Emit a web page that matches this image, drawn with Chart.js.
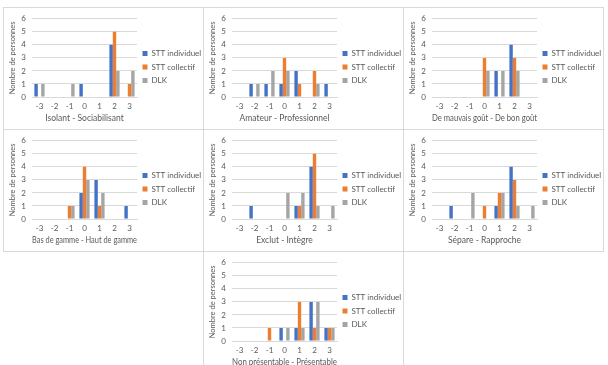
<!DOCTYPE html>
<html>
<head>
<meta charset="utf-8">
<script src="https://cdn.jsdelivr.net/npm/chart.js@4.4.1/dist/chart.umd.min.js"></script>
<style>
  body { margin: 0; background: #fff; width: 608px; height: 365px; overflow: hidden; position: relative; }
  .panel { position: absolute; width: 201px; height: 123px; box-sizing: border-box; border: 1px solid #d9d9d9; background: #fff; }
  .panel canvas { display: block; }
</style>
</head>
<body>
<script>
// categories of the semantic scale
const categories = ['-3', '-2', '-1', '0', '1', '2', '3'];
const seriesNames = ['STT individuel', 'STT collectif', 'DLK'];
const axisTitles = [
  'Isolant - Sociabilisant',
  'Amateur - Professionnel',
  'De mauvais goût - De bon goût',
  'Bas de gamme - Haut de gamme',
  'Exclut - Intègre',
  'Sépare - Rapproche',
  'Non présentable - Présentable'
];
const yTicks = [0, 1, 2, 3, 4, 5, 6];

// one row per panel, one value per category
const sttIndividuel = [
  [1, 0, 0, 1, 0, 4, 0],
  [0, 1, 1, 1, 2, 0, 1],
  [0, 0, 0, 0, 2, 4, 0],
  [0, 0, 0, 2, 3, 0, 1],
  [0, 1, 0, 0, 1, 4, 0],
  [0, 1, 0, 0, 1, 4, 0],
  [0, 0, 0, 1, 1, 3, 1]
];
const sttCollectif = [
  [0, 0, 0, 0, 0, 5, 1],
  [0, 0, 0, 3, 1, 2, 0],
  [0, 0, 0, 3, 0, 3, 0],
  [0, 0, 1, 4, 1, 0, 0],
  [0, 0, 0, 0, 1, 5, 0],
  [0, 0, 0, 1, 2, 3, 0],
  [0, 0, 1, 0, 3, 1, 1]
];
const dlk = [
  [1, 0, 1, 0, 0, 2, 2],
  [0, 1, 2, 2, 0, 1, 0],
  [0, 0, 0, 2, 2, 2, 0],
  [0, 0, 1, 3, 2, 0, 0],
  [0, 0, 0, 2, 2, 1, 1],
  [0, 0, 2, 0, 2, 1, 1],
  [0, 0, 0, 1, 1, 3, 1]
];

const colors = ['#4472c4', '#ed7d31', '#a5a5a5'];
const panelPos = [[3, 7], [203, 7], [403, 7], [3, 129], [203, 129], [403, 129], [203, 251]];
const textColor = '#595959';
const fontFamily = 'Lato, "Liberation Sans", sans-serif';

function createPanel(i) {
  const div = document.createElement('div');
  div.className = 'panel';
  div.style.left = panelPos[i][0] + 'px';
  div.style.top = panelPos[i][1] + 'px';
  const canvas = document.createElement('canvas');
  canvas.width = 199;
  canvas.height = 121;
  div.appendChild(canvas);
  document.body.appendChild(div);

  const values = [sttIndividuel[i], sttCollectif[i], dlk[i]];

  return new Chart(canvas, {
    type: 'bar',
    data: {
      labels: categories,
      datasets: seriesNames.map((name, k) => ({
        label: name,
        data: values[k],
        backgroundColor: colors[k],
        borderWidth: 0,
        categoryPercentage: 0.68,
        barPercentage: 1.0
      }))
    },
    options: {
      responsive: false,
      animation: false,
      layout: { padding: { top: 0, right: 0, bottom: 3, left: 0 } },
      plugins: {
        tooltip: { enabled: false },
        legend: {
          position: 'right',
          maxWidth: 66,
          labels: {
            boxWidth: 5,
            boxHeight: 5,
            padding: 5.5,
            color: textColor,
            font: { family: fontFamily, size: 8 }
          }
        }
      },
      scales: {
        x: {
          grid: { display: false, drawTicks: false },
          border: { display: true, color: '#d9d9d9' },
          ticks: {
            color: textColor, padding: 5, autoSkip: false,
            minRotation: 0, maxRotation: 0,
            font: { family: fontFamily, size: 8 }
          },
          title: {
            display: true,
            text: axisTitles[i],
            color: textColor,
            padding: { top: 0, bottom: 3 },
            font: { family: fontFamily, size: 8.5 }
          },
          afterFit: s => { s.height = 29; }
        },
        y: {
          min: 0,
          max: 6,
          afterBuildTicks: s => { s.ticks = yTicks.map(v => ({ value: v })); },
          grid: { color: '#d9d9d9', drawTicks: false },
          border: { display: false },
          ticks: { color: textColor, padding: 6, font: { family: fontFamily, size: 8 } },
          title: {
            display: true,
            text: 'Nombre de personnes',
            color: textColor,
            padding: { top: 4, bottom: 0 },
            font: { family: fontFamily, size: 7.5 }
          },
          afterFit: s => { s.width = 28; }
        },
        // empty spacer above the plot, keeps the legend centred on the panel
        pad: {
          type: 'linear',
          position: 'top',
          grid: { display: false, drawTicks: false },
          border: { display: false },
          ticks: { display: false },
          afterFit: s => { s.height = 3.2; }
        }
      }
    }
  });
}

const charts = axisTitles.map((t, i) => createPanel(i));
</script>
</body>
</html>
